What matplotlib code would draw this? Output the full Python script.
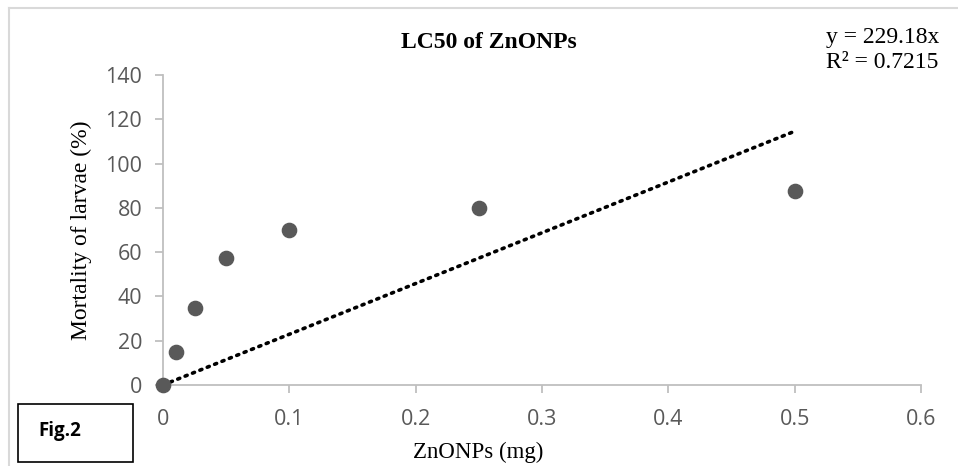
import numpy as np
import matplotlib.pyplot as plt
from matplotlib.patches import Rectangle
from matplotlib.lines import Line2D

# --- data ---
dose_mg = [0, 0.01, 0.025, 0.05, 0.1, 0.25, 0.5]
mortality = [0, 15, 35, 57.5, 70, 80, 87.5]
slope = 229.18
r2 = 0.7215
x_ticks = [0, 0.1, 0.2, 0.3, 0.4, 0.5, 0.6]
y_ticks = [0, 20, 40, 60, 80, 100, 120, 140]

W, H = 958, 466
fig = plt.figure(figsize=(W / 100, H / 100), dpi=100)
ax = fig.add_axes([163 / W, 1 - 385 / H, (921 - 163) / W, (385 - 75) / H])

grey = '#595959'
light = '#BFBFBF'

# trend line through origin
fit_x = np.array([0, max(dose_mg)])
ax.plot(fit_x, slope * fit_x, color='black', linestyle=(0, (0.6, 1.6)),
        linewidth=2.6, dash_capstyle='round', zorder=2)
ax.scatter(dose_mg, mortality, s=105, color=grey, zorder=3, clip_on=False)

ax.set_xlim(0, 0.6)
ax.set_ylim(0, 140)
ax.set_xticks(x_ticks)
ax.set_xticklabels(['0', '0.1', '0.2', '0.3', '0.4', '0.5', '0.6'])
ax.set_yticks(y_ticks)

for s in ['top', 'right']:
    ax.spines[s].set_visible(False)
for s in ['left', 'bottom']:
    ax.spines[s].set_color(light)
    ax.spines[s].set_linewidth(1.3)
ax.tick_params(axis='both', colors=light, length=6, width=1.3,
               labelcolor=grey, labelsize=15.5)
ax.tick_params(axis='x', pad=11)
ax.tick_params(axis='y', pad=9)
for lab in ax.get_xticklabels() + ax.get_yticklabels():
    lab.set_fontfamily('Open Sans')

serif = 'Liberation Serif'
fig.text(489 / W, 1 - 43 / H, 'LC50 of ZnONPs', ha='center', va='center',
         fontsize=17, fontweight='bold', family=serif)
fig.text(478 / W, 1 - 452 / H, 'ZnONPs (mg)', ha='center', va='center',
         fontsize=16.5, family=serif)
fig.text(81 / W, 1 - 230 / H, 'Mortality of larvae (%)', ha='center', va='center',
         rotation=90, fontsize=17, family=serif)
fig.text(826 / W, 1 - 37 / H, f'y = {slope}x', ha='left', va='center',
         fontsize=17, family=serif)
fig.text(826 / W, 1 - 62 / H, f'R² = {r2}', ha='left', va='center',
         fontsize=17, family=serif)

# outer chart frame (only top and left edges visible)
fig.add_artist(Line2D([9 / W, 1], [1 - 8 / H, 1 - 8 / H], color='#D9D9D9', lw=1.5))
fig.add_artist(Line2D([9 / W, 9 / W], [0, 1 - 8 / H], color='#D9D9D9', lw=1.5))

# Fig.2 box
fig.add_artist(Rectangle((18 / W, 1 - 462 / H), 115 / W, 58 / H,
                         transform=fig.transFigure, fill=False, ec='black', lw=1.2))
fig.text(38 / W, 1 - 431 / H, 'Fig.2', ha='left', va='center',
         fontsize=13.5, fontweight='bold', family='Open Sans')

fig.savefig('out.png', dpi=100)
